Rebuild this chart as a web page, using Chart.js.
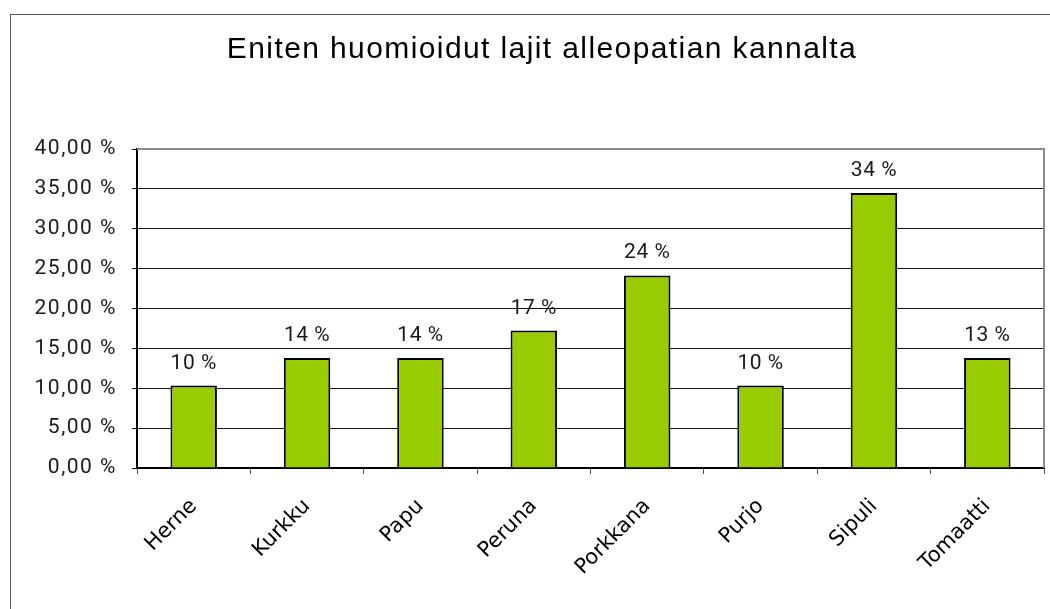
<!DOCTYPE html>
<html>
<head>
<meta charset="utf-8">
<script src="https://cdn.jsdelivr.net/npm/chart.js@4.4.1/dist/chart.umd.min.js"></script>
<style>
html,body{margin:0;padding:0;background:#fff;}
#wrap{position:relative;width:1050px;height:609px;overflow:hidden;}
#frame{position:absolute;left:10px;top:14px;width:1100px;height:700px;border-left:1px solid #5a5a5a;border-top:1px solid #5a5a5a;}
canvas{position:absolute;left:0;top:0;}
</style>
</head>
<body>
<div id="wrap"><div id="frame"></div><canvas id="c" width="1050" height="609"></canvas></div>
<script>
const TITLE = "Eniten huomioidut lajit alleopatian kannalta";
const categories = ["Herne","Kurkku","Papu","Peruna","Porkkana","Purjo","Sipuli","Tomaatti"];
const shares = [10.34, 13.79, 13.79, 17.24, 24.14, 10.34, 34.48, 13.79];
const valueLabels = ["10 %","14 %","14 %","17 %","24 %","10 %","34 %","13 %"];
const yMin = 0, yMax = 40, yStep = 5;

const deco = {
  id: 'deco',
  afterLayout(chart){
    const y = chart.scales.y;
    if (!y._lsPatched){
      const orig = y.drawLabels.bind(y);
      y.drawLabels = function(area){ const c=this.ctx; c.save(); c.letterSpacing='1.5px'; orig(area); c.restore(); };
      y._lsPatched = true;
    }
  },
  afterDraw(chart){
    const ctx = chart.ctx;
    ctx.save();
    ctx.fillStyle = '#000';
    ctx.font = '30px "Liberation Sans"';
    ctx.textAlign = 'center';
    ctx.textBaseline = 'alphabetic';
    ctx.letterSpacing = '1.4px';
    ctx.fillText(TITLE, 542, 58);
    ctx.restore();
  },
  afterDatasetsDraw(chart){
    const ctx = chart.ctx, a = chart.chartArea;
    ctx.save();
    ctx.strokeStyle = '#8c8c8c';
    ctx.lineWidth = 2;
    ctx.beginPath();
    ctx.moveTo(a.left, a.top); ctx.lineTo(a.right, a.top); ctx.lineTo(a.right, a.bottom);
    ctx.stroke();
    const meta = chart.getDatasetMeta(0);
    ctx.fillStyle = '#1a1a1a';
    ctx.font = '21px Roboto';
    ctx.letterSpacing = '0.5px';
    ctx.textAlign = 'center';
    ctx.textBaseline = 'alphabetic';
    meta.data.forEach((bar, i) => {
      ctx.fillText(valueLabels[i], bar.x, bar.y - 17);
    });
    ctx.restore();
  }
};

new Chart(document.getElementById('c'), {
  type: 'bar',
  data: {
    labels: categories,
    datasets: [{
      data: shares,
      backgroundColor: '#99cc00',
      borderColor: '#000',
      borderWidth: 2,
      borderSkipped: 'bottom',
      barPercentage: 0.41,
      categoryPercentage: 1
    }]
  },
  options: {
    responsive: false,
    animation: false,
    devicePixelRatio: 1,
    layout: { padding: { top: 149, right: 6, left: 0, bottom: 0 } },
    plugins: { legend: { display: false }, title: { display: false }, tooltip: { enabled: false } },
    scales: {
      x: {
        offset: true,
        grid: { offset: true, drawOnChartArea: false, drawTicks: true, tickLength: 6, color: '#555', lineWidth: 1 },
        border: { color: '#000', width: 2 },
        ticks: { maxRotation: 45, minRotation: 45, color: '#000', font: { family: '"DejaVu Sans"', size: 21 }, padding: 20 },
        afterFit(s){ s.height = 141; }
      },
      y: {
        min: yMin, max: yMax,
        grid: { color: '#111', lineWidth: 1, tickLength: 5 },
        border: { color: '#000', width: 2 },
        ticks: {
          stepSize: yStep, color: '#1a1a1a', padding: 15,
          font: { family: 'Roboto', size: 21 },
          callback: v => v.toFixed(2).replace('.', ',') + ' %'
        },
        afterFit(s){ s.width = 137; }
      }
    }
  },
  plugins: [deco]
});
</script>
</body>
</html>
